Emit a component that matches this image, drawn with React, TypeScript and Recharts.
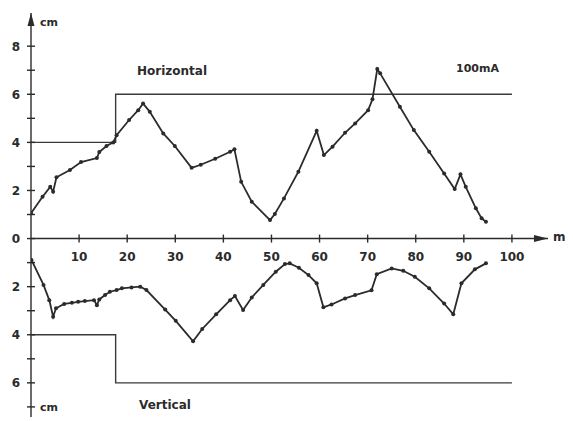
import { ComposedChart, Line, XAxis, YAxis, ReferenceLine, ReferenceDot } from "recharts";

// horizontal displacement, upper half (cm above the axis)
const hDist = [0, 2.4, 4, 4.6, 5.3, 8.1, 10.4, 13.7, 14.2, 15.7, 17.1, 17.8, 20.4, 22.3, 23.3, 24.7, 27.5, 29.9, 33.4, 35.3, 38.3, 41.4, 42.3, 43.7, 45.9, 49.7, 50.7, 52.6, 55.6, 59.4, 60.9, 62.7, 65.3, 67.4, 70.1, 71.0, 72.0, 72.6, 76.7, 79.6, 82.8, 85.9, 88.1, 89.3, 90.4, 92.5, 93.7, 94.6];
const hDepth = [1.05, 1.74, 2.15, 1.95, 2.55, 2.85, 3.18, 3.35, 3.6, 3.85, 4.0, 4.3, 4.93, 5.34, 5.62, 5.27, 4.37, 3.85, 2.94, 3.07, 3.32, 3.61, 3.71, 2.36, 1.53, 0.77, 1.02, 1.67, 2.78, 4.48, 3.47, 3.82, 4.4, 4.79, 5.34, 5.79, 7.05, 6.87, 5.48, 4.51, 3.61, 2.71, 2.06, 2.67, 2.15, 1.26, 0.84, 0.7];

// vertical displacement, lower half (cm below the axis)
const vDist = [0.1, 2.6, 3.8, 4.6, 5.2, 6.9, 8.5, 9.8, 11.2, 13.1, 13.7, 14.2, 15.4, 16.4, 17.8, 18.9, 20.9, 22.7, 24.0, 27.9, 30.1, 33.7, 35.6, 38.5, 41.4, 42.4, 44.1, 45.9, 48.3, 50.9, 52.8, 53.8, 55.7, 57.7, 59.4, 60.8, 62.5, 65.3, 67.4, 70.8, 71.9, 75.0, 77.4, 79.8, 82.8, 85.9, 87.8, 89.5, 92.3, 94.6];
const vDepth = [0.89, 1.93, 2.56, 3.25, 2.9, 2.72, 2.67, 2.63, 2.6, 2.56, 2.77, 2.53, 2.35, 2.21, 2.14, 2.07, 2.03, 2.0, 2.14, 2.95, 3.42, 4.27, 3.76, 3.15, 2.56, 2.39, 2.97, 2.45, 1.93, 1.38, 1.06, 1.03, 1.21, 1.52, 1.86, 2.86, 2.74, 2.49, 2.35, 2.15, 1.48, 1.24, 1.34, 1.59, 2.07, 2.7, 3.15, 1.86, 1.28, 1.03];

// tolerance limits
const stepDist = [0, 17.6, 17.6, 100];
const hLimit = [4, 4, 6, 6];
const vLimit = [4, 4, 6, 6];

const xTicks = [10, 20, 30, 40, 50, 60, 70, 80, 90, 100];
const yTicks = [-7, -6, -5, -4, -3, -2, -1, 0, 1, 2, 3, 4, 5, 6, 7, 8];

const hData = hDist.map((x, i) => ({ x, y: hDepth[i] }));
const vData = vDist.map((x, i) => ({ x, y: -vDepth[i] }));
const hStepData = stepDist.map((x, i) => ({ x, y: hLimit[i] }));
const vStepData = stepDist.map((x, i) => ({ x, y: -vLimit[i] }));

const ink = "#2b2b2b";
const font = "'DejaVu Sans', sans-serif";

const YTickMark = (props: any) => {
  const { cx, cy, value } = props;
  return (
    <g>
      <line x1={cx - 4} x2={cx + 4} y1={cy} y2={cy} stroke={ink} strokeWidth={1.4} />
      {value % 2 === 0 && (
        <text x={cx - 11} y={cy + 4.5} textAnchor="end" fontSize={12} fontWeight={700} fill={ink} fontFamily={font}>
          {Math.abs(value)}
        </text>
      )}
    </g>
  );
};

const XTickMark = (props: any) => {
  const { cx, cy, label } = props;
  return (
    <g>
      <line x1={cx} x2={cx} y1={cy - 4} y2={cy + 4} stroke={ink} strokeWidth={1.4} />
      <text x={cx} y={cy + 22} textAnchor="middle" fontSize={12} fontWeight={700} fill={ink} fontFamily={font}>
        {label}
      </text>
    </g>
  );
};

const UpArrow = (props: any) => {
  const { cx, cy } = props;
  return <path d={`M${cx},${cy} L${cx - 3.5},${cy + 13} L${cx + 3.5},${cy + 13} Z`} fill={ink} />;
};

const RightArrow = (props: any) => {
  const { cx, cy } = props;
  return <path d={`M${cx},${cy} L${cx - 14},${cy - 3.5} L${cx - 14},${cy + 3.5} Z`} fill={ink} />;
};

const note = (left: number, top: number, text: string, size = 12) => (
  <div style={{ position: "absolute", left, top, fontFamily: font, fontSize: size, fontWeight: 700, color: ink, whiteSpace: "nowrap", lineHeight: 1 }}>
    {text}
  </div>
);

export default function App() {
  return (
    <div style={{ position: "absolute", left: 0, top: 0, width: 573, height: 421, background: "#fff" }}>
      <ComposedChart width={573} height={421} margin={{ top: 13, right: 25, bottom: 4, left: 31 }}>
        <XAxis type="number" dataKey="x" domain={[0, 107.5]} hide allowDataOverflow />
        <YAxis type="number" domain={[-7.42, 9.38]} hide allowDataOverflow />
        <ReferenceLine x={0} stroke={ink} strokeWidth={1.4} />
        <ReferenceLine y={0} stroke={ink} strokeWidth={1.4} />
        {yTicks.map((t) => (
          <ReferenceDot key={"y" + t} x={0} y={t} r={0} shape={<YTickMark value={t} />} />
        ))}
        {xTicks.map((t) => (
          <ReferenceDot key={"x" + t} x={t} y={0} r={0} shape={<XTickMark label={t} />} />
        ))}
        <ReferenceDot x={107.5} y={0} shape={<RightArrow />} />
        <ReferenceDot x={0} y={9.38} shape={<UpArrow />} />
        <Line data={hStepData} dataKey="y" type="linear" stroke="#3a3a3a" strokeWidth={1.4} dot={false} isAnimationActive={false} />
        <Line data={vStepData} dataKey="y" type="linear" stroke="#3a3a3a" strokeWidth={1.4} dot={false} isAnimationActive={false} />
        <Line data={hData} dataKey="y" type="linear" stroke={ink} strokeWidth={1.8} dot={{ r: 2, fill: ink, stroke: "none" }} isAnimationActive={false} />
        <Line data={vData} dataKey="y" type="linear" stroke={ink} strokeWidth={1.8} dot={{ r: 2, fill: ink, stroke: "none" }} isAnimationActive={false} />
      </ComposedChart>
      {note(40, 17, "cm", 11)}
      {note(40, 402, "cm", 11)}
      {note(553, 231, "m", 12)}
      {note(137, 65, "Horizontal", 12)}
      {note(456, 63, "100mA", 11)}
      {note(139, 399, "Vertical", 12)}
    </div>
  );
}
